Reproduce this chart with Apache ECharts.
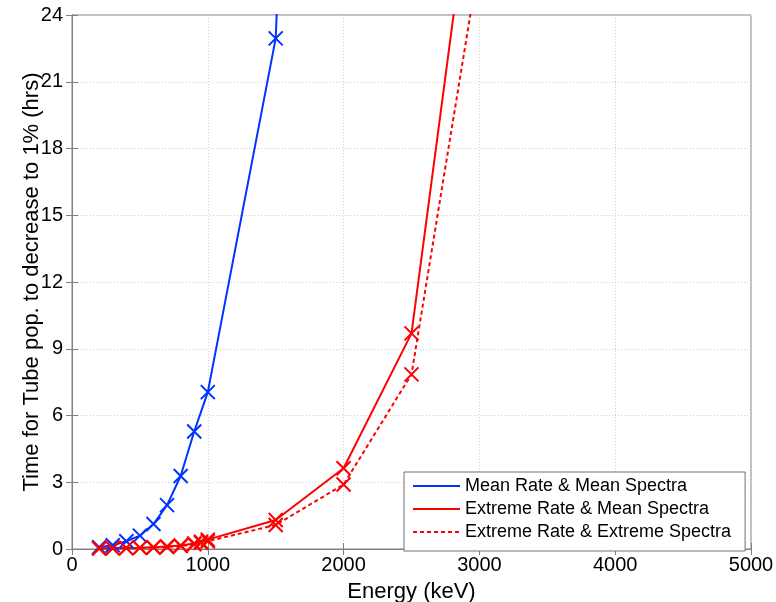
<!DOCTYPE html>
<html>
<head>
<meta charset="utf-8">
<script src="https://cdn.jsdelivr.net/npm/echarts@6/dist/echarts.min.js"></script>
<style>html,body{margin:0;padding:0;background:#fff}#c{width:776px;height:602px}</style>
</head>
<body>
<div id="c"></div>
<script>
// Data
var blueEnergy = [200, 300, 400, 500, 600, 700, 800, 900, 1000, 1500, 2000];
var blueTime   = [0.08, 0.17, 0.35, 0.6, 1.12, 1.97, 3.28, 5.28, 7.05, 22.95, 96];

var redEnergy  = [200, 300, 400, 500, 600, 700, 800, 900, 950, 1000, 1500, 2000, 2500, 3000];
var redSolid   = [0.03, 0.04, 0.05, 0.06, 0.08, 0.11, 0.16, 0.25, 0.33, 0.42, 1.3, 3.63, 9.69, 32.8];
var redDashed  = [0.02, 0.03, 0.04, 0.05, 0.07, 0.09, 0.13, 0.21, 0.28, 0.35, 1.08, 2.9, 7.85, 26.5];

var seriesNames = ['Mean Rate & Mean Spectra', 'Extreme Rate & Mean Spectra', 'Extreme Rate & Extreme Spectra'];
var xTicks = {min: 0, max: 5000, interval: 1000};
var yTicks = {min: 0, max: 24, interval: 3};
var xTitle = 'Energy (keV)';
var yTitle = 'Time for Tube pop. to decrease to 1% (hrs)';

function pairs(xs, ys) { return xs.map(function (x, i) { return [x, ys[i]]; }); }

var FONT = "'Liberation Sans', Arial, Helvetica, sans-serif";
var AXC = '#808080';
var CROSS = 'path://M0,0L10,10M10,0L0,10';

function mkSeries(name, data, color, dashed) {
  return {
    name: name, type: 'line', data: data,
    symbol: CROSS, symbolSize: 14, showSymbol: true,
    clip: true, animation: false,
    lineStyle: {color: color, width: 2, type: dashed ? [4, 3] : 'solid'},
    itemStyle: {color: 'none', borderColor: color, borderWidth: 2}
  };
}

var chart = echarts.init(document.getElementById('c'));
chart.setOption({
  animation: false,
  textStyle: {fontFamily: FONT},
  grid: {left: 72, right: 25, top: 15, bottom: 53, outerBoundsMode: 'none', containLabel: false,
         show: true, borderColor: AXC, borderWidth: 1, backgroundColor: '#fff'},
  xAxis: [{
    type: 'value', min: xTicks.min, max: xTicks.max, interval: xTicks.interval,
    name: xTitle, nameLocation: 'middle', nameGap: 32, nameMoveOverlap: false,
    nameTextStyle: {fontSize: 22, color: '#000', fontFamily: FONT},
    axisLine: {show: true, lineStyle: {color: AXC}},
    axisTick: {show: true, inside: true, length: 6, lineStyle: {color: AXC}},
    axisLabel: {fontSize: 20, color: '#000', margin: 6, fontFamily: FONT, formatter: function (v) { return String(v); }},
    splitLine: {show: true, lineStyle: {color: '#cfcfcf', type: [1, 2]}}
  }, {
    type: 'value', position: 'top', min: xTicks.min, max: xTicks.max, interval: xTicks.interval,
    axisLine: {show: true, lineStyle: {color: AXC}},
    axisTick: {show: true, inside: true, length: 6, lineStyle: {color: AXC}},
    axisLabel: {show: false}, splitLine: {show: false}
  }],
  yAxis: [{
    type: 'value', min: yTicks.min, max: yTicks.max, interval: yTicks.interval,
    name: yTitle, nameLocation: 'middle', nameGap: 29, nameMoveOverlap: false,
    nameTextStyle: {fontSize: 22, color: '#000', fontFamily: FONT},
    axisLine: {show: true, lineStyle: {color: AXC}},
    axisTick: {show: true, inside: true, length: 6, lineStyle: {color: AXC}},
    axisLabel: {fontSize: 20, color: '#000', margin: 9, fontFamily: FONT},
    splitLine: {show: true, lineStyle: {color: '#cfcfcf', type: [1, 2]}}
  }, {
    type: 'value', position: 'right', min: yTicks.min, max: yTicks.max, interval: yTicks.interval,
    axisLine: {show: true, lineStyle: {color: AXC}},
    axisTick: {show: true, inside: true, length: 6, lineStyle: {color: AXC}},
    axisLabel: {show: false}, splitLine: {show: false}
  }],
  legend: {
    orient: 'vertical', left: 404, top: 472,
    padding: [5, 14, 10, 8], itemGap: 5, itemWidth: 47, itemHeight: 18,
    backgroundColor: '#fff', borderColor: '#707070', borderWidth: 1,
    textStyle: {fontSize: 18, color: '#000', fontFamily: FONT},
    itemStyle: {color: 'transparent', borderColor: 'transparent', borderWidth: 0},
    data: seriesNames
  },
  series: [
    mkSeries(seriesNames[0], pairs(blueEnergy, blueTime), '#0033ff', false),
    mkSeries(seriesNames[1], pairs(redEnergy, redSolid), '#ff0000', false),
    mkSeries(seriesNames[2], pairs(redEnergy, redDashed), '#ff0000', true)
  ]
});
</script>
</body>
</html>
